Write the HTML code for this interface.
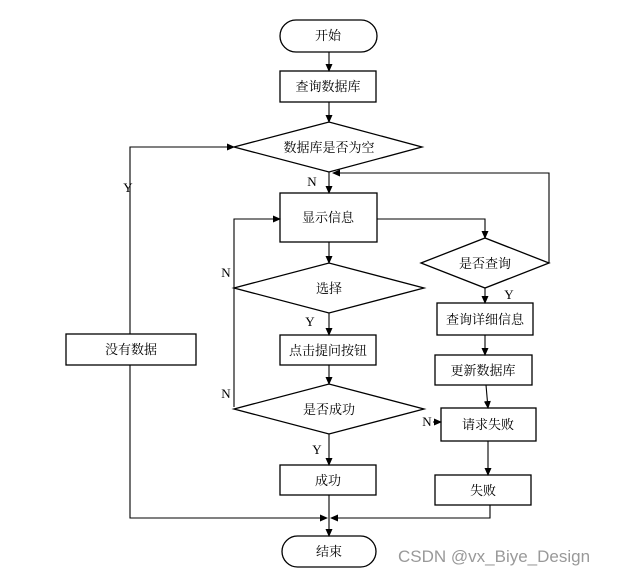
<!DOCTYPE html>
<html><head><meta charset="utf-8"><style>
body{margin:0;background:#fff}
</style></head><body>
<svg width="617" height="575" xmlns="http://www.w3.org/2000/svg" style="display:block">
<defs><marker id="a" markerWidth="8" markerHeight="8" refX="7" refY="4" orient="auto" markerUnits="userSpaceOnUse"><path d="M0,0.5 L8,4 L0,7.5 z" fill="#000"/></marker></defs>
<g fill="#fff" stroke="#000" stroke-width="1.3">
<rect x="280" y="20" width="97" height="32" rx="16"/>
<rect x="280" y="71" width="96" height="31"/>
<polygon points="234,147 329,122 422,147 329,172"/>
<rect x="280" y="193" width="97" height="49"/>
<polygon points="421,263 485,238 549,263 485,288"/>
<polygon points="234,288 329,263 424,288 329,313"/>
<rect x="280" y="335" width="96" height="30"/>
<polygon points="234,409 329,384 424,409 329,434"/>
<rect x="280" y="465" width="96" height="30"/>
<rect x="282" y="536" width="94" height="31" rx="15.5"/>
<rect x="437" y="303" width="96" height="32"/>
<rect x="435" y="355" width="97" height="30"/>
<rect x="441" y="408" width="95" height="33"/>
<rect x="435" y="475" width="96" height="30"/>
<rect x="66" y="334" width="130" height="31"/>
</g>
<g fill="none" stroke="#000" stroke-width="1.1" marker-end="url(#a)">
<line x1="329" y1="52" x2="329" y2="71"/>
<line x1="329" y1="102" x2="329" y2="122"/>
<line x1="329" y1="172" x2="329" y2="193"/>
<polyline points="377,219 485,219 485,238"/>
<polyline points="549,263 549,173 333,173"/>
<line x1="329" y1="242" x2="329" y2="263"/>
<polyline points="234,407 234,219 280,219"/>
<line x1="329" y1="313" x2="329" y2="335"/>
<line x1="329" y1="365" x2="329" y2="384"/>
<line x1="329" y1="434" x2="329" y2="465"/>
<line x1="329" y1="495" x2="329" y2="536"/>
<line x1="485" y1="288" x2="485" y2="303"/>
<line x1="485" y1="335" x2="485" y2="355"/>
<line x1="486" y1="385" x2="488" y2="408"/>
<line x1="488" y1="441" x2="488" y2="475"/>
<polyline points="490,505 490,518 331,518"/>
<polyline points="130,365 130,518 327,518"/>
<polyline points="130,334 130,147 234,147"/>
<line x1="433" y1="422" x2="441" y2="422"/>
</g>
<g font-family="'Liberation Serif','Noto Serif CJK SC',serif" font-size="13" text-anchor="middle" fill="#000">
<text x="328" y="40">开始</text>
<text x="328" y="91">查询数据库</text>
<text x="329" y="152">数据库是否为空</text>
<text x="328" y="222">显示信息</text>
<text x="485" y="268">是否查询</text>
<text x="329" y="293">选择</text>
<text x="328" y="355">点击提问按钮</text>
<text x="329" y="414">是否成功</text>
<text x="328" y="485">成功</text>
<text x="329" y="556">结束</text>
<text x="485" y="324">查询详细信息</text>
<text x="483" y="375">更新数据库</text>
<text x="488" y="429">请求失败</text>
<text x="483" y="495">失败</text>
<text x="131" y="354">没有数据</text>
<text x="312" y="186">N</text>
<text x="128" y="192">Y</text>
<text x="226" y="277">N</text>
<text x="226" y="398">N</text>
<text x="310" y="326">Y</text>
<text x="317" y="454">Y</text>
<text x="509" y="299">Y</text>
<text x="427" y="426">N</text>
</g>
<text x="398" y="562" font-family="'Liberation Sans',sans-serif" font-size="17" fill="#999">CSDN @vx_Biye_Design</text>
</svg>
</body></html>
